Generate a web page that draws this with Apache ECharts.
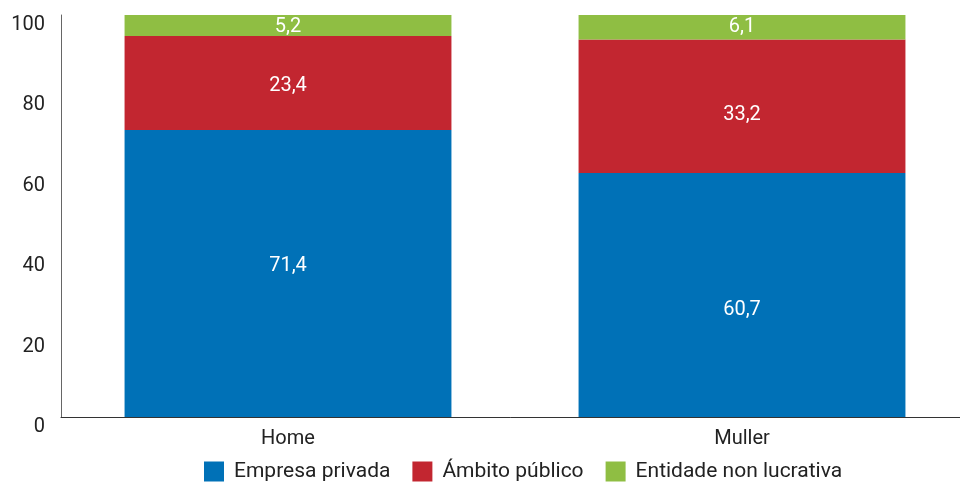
<!DOCTYPE html>
<html><head><meta charset="utf-8">
<script src="https://cdn.jsdelivr.net/npm/echarts@6/dist/echarts.min.js"></script>
<style>html,body{margin:0;padding:0;background:#fff}#c{width:960px;height:487px}</style>
</head><body><div id="c"></div>
<script>
const categories = ['Home', 'Muller'];
const empresaPrivada = [71.4, 60.7];
const ambitoPublico = [23.4, 33.2];
const entidadeNonLucrativa = [5.2, 6.1];
const seriesNames = ['Empresa privada', 'Ámbito público', 'Entidade non lucrativa'];

// vertical nudges of value labels, as placed in the original
const labelShift = [[-7, 15], [3, 9], [2, 0]];

const FONT = 'Roboto, sans-serif';
const baseLabel = {
  show: true, position: 'inside', color: '#fff', fontSize: 20, fontFamily: FONT,
  formatter: p => String(p.value).replace('.', ',')
};
function mk(values, si) {
  return values.map((v, i) => ({ value: v, label: { offset: [0, labelShift[si][i]] } }));
}
const colors = ['#0071b7', '#c22630', '#8fbe43'];
const values = [empresaPrivada, ambitoPublico, entidadeNonLucrativa];

const chart = echarts.init(document.getElementById('c'));
chart.setOption({
  animation: false,
  grid: { left: 61, width: 908, top: 15, bottom: 70, outerBoundsMode: 'none', containLabel: false },
  legend: {
    bottom: 0, left: 199, itemWidth: 20, itemHeight: 20, itemGap: 22,
    icon: 'rect',
    textStyle: { fontSize: 21, color: '#222', fontFamily: FONT, padding: [0, 0, 0, 5] },
    data: seriesNames
  },
  xAxis: {
    type: 'category', data: categories,
    axisLine: { lineStyle: { color: '#333', width: 1 } },
    axisTick: { show: false },
    axisLabel: { fontSize: 20, color: '#222', fontFamily: FONT, margin: 12 }
  },
  yAxis: {
    type: 'value', min: 0, max: 100, interval: 20,
    axisLine: { show: true, lineStyle: { color: '#666', width: 1 } },
    axisTick: { show: false },
    splitLine: { show: false },
    axisLabel: { fontSize: 20, color: '#222', fontFamily: FONT, margin: 16, verticalAlign: 'top' }
  },
  series: values.map((vals, si) => ({
    name: seriesNames[si], type: 'bar', stack: 's', data: mk(vals, si),
    barCategoryGap: '28%', itemStyle: { color: colors[si] }, label: baseLabel
  }))
});
</script></body></html>
